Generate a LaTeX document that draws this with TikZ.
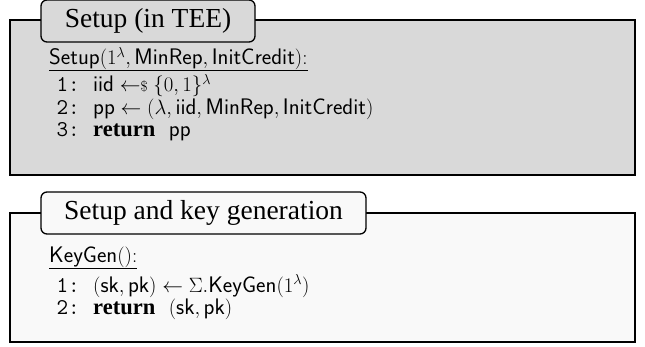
\documentclass[tikz,border=0pt]{standalone}
\usepackage{amsmath,amssymb}
\usepackage{fontspec}
\newfontfamily\timesfont{Liberation Serif}
\usetikzlibrary{positioning}
\tikzset{
  frameln/.style={line width=1.8pt},
  titlebox/.style={draw, line width=1.3pt, rounded corners=6pt, inner sep=0pt,
    font=\timesfont\fontsize{27.5}{32}\selectfont},
  codeln/.style={anchor=base west, inner sep=0pt, font=\fontsize{22.5}{26}\selectfont},
  lnum/.style={anchor=base east, inner sep=0pt, font=\ttfamily\fontsize{22.5}{26}\selectfont},
}
\newcommand{\kw}[1]{\text{\timesfont\bfseries #1}}
\newcommand{\smp}{\mathrel{\leftarrow\mkern-5mu{\scriptstyle\$}}}
\definecolor{teegray}{gray}{0.85}
\definecolor{kggray}{gray}{0.975}

\begin{document}
\begin{tikzpicture}[x=1pt, y=-1pt]
  \useasboundingbox (0,0) rectangle (645,347);
  % setup box
  \draw[frameln, fill=teegray] (10,20) rectangle (635,175);
  \node[titlebox, fill=teegray, minimum width=214pt, minimum height=42pt] (tsetup) at (148,21) {Setup (in TEE)};
  \node[codeln] (hsetup) at (49,65) {$\mathsf{Setup}(1^\lambda, \mathsf{MinRep}, \mathsf{InitCredit})\mathrm{:}$};
  \draw[line width=0.6pt] (hsetup.south west) -- (hsetup.south east);
  \node[lnum] (n1) at (80,92) {1:};
  \node[codeln] (c1) at (93,92) {$\mathsf{iid} \smp \{0,1\}^\lambda$};
  \node[lnum] (n2) at (80,114.5) {2:};
  \node[codeln] (c2) at (93,114.5) {$\mathsf{pp} \leftarrow (\lambda, \mathsf{iid}, \mathsf{MinRep}, \mathsf{InitCredit})$};
  \node[lnum] (n3) at (80,137) {3:};
  \node[codeln] (c3) at (93,137) {$\kw{return}\ \ \mathsf{pp}$};
  % key generation box
  \draw[frameln, fill=kggray] (10,213) rectangle (635,342);
  \node[titlebox, fill=kggray, minimum width=325pt, minimum height=42pt] (tkeygen) at (203.5,213) {Setup and key generation};
  \node[codeln] (hkeygen) at (49,263) {$\mathsf{KeyGen}()\mathrm{:}$};
  \draw[line width=0.6pt] (hkeygen.south west) -- (hkeygen.south east);
  \node[lnum] (m1) at (80,292) {1:};
  \node[codeln] (d1) at (93,292) {$(\mathsf{sk}, \mathsf{pk}) \leftarrow \Sigma.\mathsf{KeyGen}(1^\lambda)$};
  \node[lnum] (m2) at (80,314.5) {2:};
  \node[codeln] (d2) at (93,314.5) {$\kw{return}\ \ (\mathsf{sk}, \mathsf{pk})$};
\end{tikzpicture}
\end{document}
